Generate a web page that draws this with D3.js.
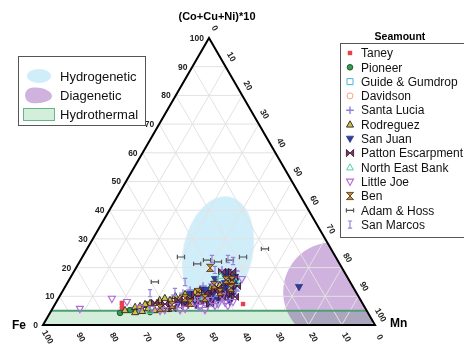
<!DOCTYPE html>
<html>
<head>
<meta charset="utf-8">
<script src="https://cdn.jsdelivr.net/npm/d3@7"></script>
<style>
  body { margin: 0; background: #fff; }
  svg { display: block; font-family: "Liberation Sans", Arial, Helvetica, sans-serif; }
</style>
</head>
<body>
<svg id="chart" width="464" height="346"></svg>
<script>
// Tick labels shared by the three ternary axes
const ticks = [0, 10, 20, 30, 40, 50, 60, 70, 80, 90, 100];

// Samples per seamount: [Fe, Mn, (Co+Cu+Ni)*10], normalised to 100
const taney = [[72.4,19.9,7.7],[72.9,20.5,6.6],[73.4,21.0,5.6],[36.1,56.6,7.3]];
const pioneer = [[74.7,21.1,4.2],[71.2,23.6,5.2],[65.5,30.0,4.5]];
const guideGumdrop = [[55.2,37.8,7.0],[46.5,44.1,9.4],[38.6,48.9,12.5]];
const davidson = [[66.5,27.9,5.6],[51.5,41.2,7.3],[41.9,47.3,10.8]];
const santaLucia = [[57.9,34.4,7.7],[54.4,36.9,8.7],[51.3,38.6,10.1],[50.2,41.8,8.0],[47.4,42.1,10.5],
  [46.9,44.4,8.7],[44.0,44.5,11.5],[43.3,46.9,9.8],[40.3,46.8,12.9],[39.7,49.2,11.1],[36.7,49.4,13.9],
  [36.1,51.7,12.2],[35.2,50.2,14.6],[36.0,52.2,11.8],[36.0,46.2,17.8],[35.1,48.2,16.7],[36.1,47.5,16.4],
  [41.9,43.8,14.3],[49.6,38.2,12.2],[61.3,31.7,7.0],[36.5,44.3,19.2],[56.4,34.2,9.4],[52.3,36.6,11.1],
  [50.1,40.5,9.4],[45.0,41.4,13.6],[47.0,46.4,6.6],[39.8,45.2,15.0],[41.1,50.2,8.7],[37.0,51.5,11.5],
  [32.5,48.7,18.8],[50.3,43.8,5.9]];
const rodreguez = [[69.1,24.6,6.3],[67.5,25.9,6.6],[65.2,27.8,7.0],[63.9,28.4,7.7],[61.8,30.5,7.7],
  [60.5,30.8,8.7],[58.6,32.0,9.4],[57.4,33.9,8.7],[55.1,34.8,10.1],[54.0,36.6,9.4],[51.8,37.4,10.8],
  [50.6,39.3,10.1],[48.4,40.1,11.5],[46.6,41.2,12.2],[43.2,43.9,12.9],[39.8,46.3,13.9],[36.2,48.8,15.0],
  [72.7,22.1,5.2],[67.7,27.4,4.9],[63.7,31.1,5.2],[59.5,34.9,5.6],[65.4,28.7,5.9],[52.3,39.7,8.0],
  [47.1,43.5,9.4],[42.7,45.1,12.2],[38.7,47.7,13.6],[34.5,48.4,17.1],[70.0,25.5,4.5],[65.6,27.1,7.3],
  [60.9,32.5,6.6]];
const sanJuan = [[53.2,38.8,8.0],[48.6,42.0,9.4],[46.4,45.9,7.7],[43.4,45.8,10.8],[42.9,48.4,8.7],
  [39.7,48.1,12.2],[39.2,50.7,10.1],[36.2,50.6,13.2],[34.3,50.4,15.3],[38.0,51.9,10.1],[33.8,49.5,16.7],
  [37.9,47.5,14.6],[45.7,42.1,12.2],[35.0,46.5,18.5],[16.3,70.5,13.2],[55.7,37.0,7.3],[50.3,38.9,10.8],
  [50.4,42.6,7.0],[44.8,43.0,12.2],[44.7,46.6,8.7],[41.4,48.1,10.5],[38.4,48.7,12.9],[39.7,52.3,8.0],
  [35.4,51.0,13.6],[40.2,43.8,16.0],[36.6,46.3,17.1]];
const pattonEscarpment = [[59.6,33.1,7.3],[54.9,36.4,8.7],[51.2,39.7,9.1],[48.7,43.3,8.0],[45.5,44.4,10.1],
  [42.3,45.9,11.8],[41.2,49.0,9.8],[37.8,50.4,11.8],[34.8,51.6,13.6],[37.3,52.9,9.8],[33.8,47.7,18.5],
  [62.4,29.9,7.7],[58.1,36.0,5.9],[53.7,39.3,7.0],[48.9,40.6,10.5],[45.6,43.3,11.1],[46.0,46.7,7.3],
  [40.8,46.3,12.9],[39.5,49.7,10.8],[36.7,48.7,14.6],[34.3,49.3,16.4],[36.8,44.7,18.5]];
const northEastBank = [[65.3,29.8,4.9],[46.9,43.3,9.8],[34.4,50.6,15.0],[38.1,44.8,17.1]];
const littleJoe = [[86.1,8.3,5.6],[74.7,16.2,9.1],[70.7,21.3,8.0],[32.1,51.9,16.0],[62.3,32.8,4.9],
  [54.4,40.0,5.6],[49.5,44.2,6.3],[44.9,48.5,6.6],[41.3,51.0,7.7],[41.0,52.4,6.6],[45.3,46.0,8.7],
  [50.4,41.9,7.7],[38.8,53.2,8.0],[56.9,36.5,6.6],[41.0,48.9,10.1],[60.7,34.1,5.2],[56.1,38.7,5.2],
  [48.6,46.2,5.2],[43.6,49.1,7.3],[48.3,43.0,8.7],[64.4,30.0,5.6],[67.8,26.3,5.9]];
const ben = [[57.6,35.4,7.0],[52.5,38.1,9.4],[47.6,40.9,11.5],[39.7,40.4,19.9],[40.9,47.6,11.5],
  [35.2,49.1,15.7],[36.9,50.2,12.9],[61.8,32.3,5.9],[46.5,44.1,9.4],[41.5,44.6,13.9],[37.0,47.3,15.7],
  [51.8,40.5,7.7]];
const adamHoss = [[58.8,26.2,15.0],[46.6,29.7,23.7],[42.9,35.8,21.3],[39.3,38.1,22.6],[36.3,41.7,22.0],
  [32.4,45.0,22.6],[27.9,48.4,23.7],[19.9,53.6,26.5]];
const sanMarcos = [[62.2,26.7,11.1],[49.7,35.3,15.0],[37.6,39.4,23.0],[32.8,44.2,23.0],[31.6,46.1,22.3],
  [38.6,42.2,19.2],[54.5,34.0,11.5]];

// Discrimination fields, in ternary units (Mn, (Co+Cu+Ni)*10)
const hydrogeneticField = { mn: 40.0, cu: 25.4, rx: 10.5, ry: 17.0, tilt: 12 };
const diageneticField = { mn: 81.6, cu: 11.5, r: 15.0 };
const hydrothermalLimit = 5;

const svg = d3.select("#chart");

// Ternary layout: equilateral triangle, Fe bottom-left, Mn bottom-right, (Co+Cu+Ni)*10 at the top
const xS = d3.scaleLinear().domain([0, 100]).range([43, 375]);
const yS = d3.scaleLinear().domain([0, 100]).range([325, 38]);
const unit = v => xS(v) - xS(0);
const pos = (mn, cu) => [xS(mn + cu / 2), yS(cu)];

const cFe = pos(0, 0), cMn = pos(100, 0), cTop = pos(0, 100);

svg.append("defs").append("clipPath").attr("id", "tri")
  .append("path").attr("d", `M${cFe}L${cMn}L${cTop}Z`);

const fields = svg.append("g").attr("clip-path", "url(#tri)");

// Hydrothermal band
const band = [pos(0, 0), pos(100, 0), pos(100 - hydrothermalLimit, hydrothermalLimit), pos(0, hydrothermalLimit)];
fields.append("path").attr("d", "M" + band.join("L") + "Z").attr("fill", "#d3eedb");

// Hydrogenetic field
const hc = pos(hydrogeneticField.mn, hydrogeneticField.cu);
fields.append("ellipse")
  .attr("transform", `translate(${hc}) rotate(${hydrogeneticField.tilt})`)
  .attr("rx", unit(hydrogeneticField.rx)).attr("ry", unit(hydrogeneticField.ry))
  .attr("fill", "#d0eef9");

// Diagenetic field
const dc = pos(diageneticField.mn, diageneticField.cu);
fields.append("circle")
  .attr("cx", dc[0]).attr("cy", dc[1]).attr("r", unit(diageneticField.r))
  .attr("fill", "#cfb2dd").style("mix-blend-mode", "multiply");

// Grid
const grid = svg.append("g").attr("stroke", "#e2e2e2").attr("stroke-width", 1).attr("fill", "none");
ticks.filter(v => v > 0 && v < 100).forEach(v => {
  grid.append("line").attr("x1", pos(0, v)[0]).attr("y1", pos(0, v)[1]).attr("x2", pos(100 - v, v)[0]).attr("y2", pos(100 - v, v)[1]);
  grid.append("line").attr("x1", pos(v, 0)[0]).attr("y1", pos(v, 0)[1]).attr("x2", pos(v, 100 - v)[0]).attr("y2", pos(v, 100 - v)[1]);
  grid.append("line").attr("x1", pos(100 - v, 0)[0]).attr("y1", pos(100 - v, 0)[1]).attr("x2", pos(0, 100 - v)[0]).attr("y2", pos(0, 100 - v)[1]);
});

// Hydrothermal upper limit
svg.append("line")
  .attr("x1", pos(0, hydrothermalLimit)[0]).attr("y1", pos(0, hydrothermalLimit)[1])
  .attr("x2", pos(100 - hydrothermalLimit, hydrothermalLimit)[0]).attr("y2", pos(100 - hydrothermalLimit, hydrothermalLimit)[1])
  .attr("stroke", "#4f9f74").attr("stroke-width", 2);

// Triangle frame
svg.append("path").attr("d", `M${cFe}L${cMn}L${cTop}Z`)
  .attr("fill", "none").attr("stroke", "#000").attr("stroke-width", 2).attr("stroke-linejoin", "miter");

// Axis tick labels
const tickG = svg.append("g").attr("font-size", 8.5).attr("font-weight", "bold").attr("fill", "#222");
ticks.forEach(v => {
  const pl = pos(0, v);
  tickG.append("text").attr("x", pl[0] - 5).attr("y", pl[1]).attr("dy", "0.35em")
    .attr("text-anchor", "end").text(v);
  const pr = pos(v, 100 - v);
  tickG.append("text").attr("transform", `translate(${pr[0] + 6},${pr[1] - 10}) rotate(60)`)
    .attr("text-anchor", "middle").attr("dy", "0.35em").text(v);
  const pb = pos(100 - v, 0);
  tickG.append("text").attr("transform", `translate(${pb[0] + 5},${pb[1] + 12}) rotate(60)`)
    .attr("text-anchor", "middle").attr("dy", "0.35em").text(v);
});

svg.append("text").attr("x", 12).attr("y", cFe[1]).attr("dy", "0.35em")
  .attr("font-size", 12).attr("font-weight", "bold").text("Fe");
svg.append("text").attr("x", cMn[0] + 15).attr("y", cMn[1] - 2).attr("dy", "0.35em")
  .attr("font-size", 12).attr("font-weight", "bold").text("Mn");
svg.append("text").attr("x", 217).attr("y", 16).attr("dy", "0.35em").attr("text-anchor", "middle")
  .attr("font-size", 11).attr("font-weight", "bold").text("(Co+Cu+Ni)*10");

// Marker shapes
const shapes = {
  square: s => `M${-s},${-s}h${2 * s}v${2 * s}h${-2 * s}Z`,
  circle: s => `M${-s},0a${s},${s} 0 1,0 ${2 * s},0a${s},${s} 0 1,0 ${-2 * s},0Z`,
  plus: s => `M${-s},0H${s}M0,${-s}V${s}`,
  triUp: s => `M0,${-s}L${s * 0.95},${s * 0.7}L${-s * 0.95},${s * 0.7}Z`,
  triDown: s => `M0,${s}L${s * 0.95},${-s * 0.7}L${-s * 0.95},${-s * 0.7}Z`,
  bowtie: s => `M${-s},${-s}L0,0L${-s},${s}ZM${s},${-s}L0,0L${s},${s}Z`,
  hourglass: s => `M${-s},${-s}L${s},${-s}L0,0ZM${-s},${s}L${s},${s}L0,0Z`,
  hbar: s => `M${-s},0H${s}M${-s},${-s * 0.6}V${s * 0.6}M${s},${-s * 0.6}V${s * 0.6}`,
  ibar: s => `M0,${-s}V${s}M${-s * 0.6},${-s}H${s * 0.6}M${-s * 0.6},${s}H${s * 0.6}`
};

const seamounts = [
  { name: "Taney", data: taney, shape: "square", size: 2.2, fill: "#e8404c", stroke: "none", sw: 0 },
  { name: "Pioneer", data: pioneer, shape: "circle", size: 2.8, fill: "#3a9a55", stroke: "#1c5a30", sw: 1 },
  { name: "Guide & Gumdrop", data: guideGumdrop, shape: "square", size: 3, fill: "none", stroke: "#44b3e3", sw: 1 },
  { name: "Davidson", data: davidson, shape: "circle", size: 3, fill: "none", stroke: "#f2a482", sw: 1 },
  { name: "Santa Lucia", data: santaLucia, shape: "plus", size: 3.8, fill: "none", stroke: "#8f80dc", sw: 1.4 },
  { name: "Rodreguez", data: rodreguez, shape: "triUp", size: 3.7, fill: "#d2bf48", stroke: "#222", sw: 0.9 },
  { name: "San Juan", data: sanJuan, shape: "triDown", size: 3.8, fill: "#2f3d9c", stroke: "#1d276b", sw: 0.6 },
  { name: "Patton Escarpment", data: pattonEscarpment, shape: "bowtie", size: 3.6, fill: "#7e3468", stroke: "#2e0f26", sw: 0.8 },
  { name: "North East Bank", data: northEastBank, shape: "triUp", size: 3.6, fill: "none", stroke: "#52d4a0", sw: 1 },
  { name: "Little Joe", data: littleJoe, shape: "triDown", size: 3.7, fill: "none", stroke: "#b06ad4", sw: 1.1 },
  { name: "Ben", data: ben, shape: "hourglass", size: 3.6, fill: "#c08a3a", stroke: "#4a3010", sw: 0.8 },
  { name: "Adam & Hoss", data: adamHoss, shape: "hbar", size: 3.6, fill: "none", stroke: "#555", sw: 1.2 },
  { name: "San Marcos", data: sanMarcos, shape: "ibar", size: 3.6, fill: "none", stroke: "#9486d8", sw: 1.2 }
];

const pts = svg.append("g");
seamounts.forEach(sm => {
  pts.append("g").selectAll("path").data(sm.data).join("path")
    .attr("transform", d => `translate(${pos(d[1], d[2])})`)
    .attr("d", shapes[sm.shape](sm.size))
    .attr("fill", sm.fill).attr("stroke", sm.stroke).attr("stroke-width", sm.sw);
});

// Field legend
const fl = svg.append("g").attr("font-size", 13).attr("fill", "#111");
fl.append("rect").attr("x", 18.5).attr("y", 56.5).attr("width", 127).attr("height", 69)
  .attr("fill", "#fff").attr("stroke", "#555").attr("stroke-width", 1);
fl.append("ellipse").attr("cx", 39).attr("cy", 76).attr("rx", 12).attr("ry", 7).attr("fill", "#d0eef9");
fl.append("path").attr("d", "M31,88C41,86 52,91 52,96C52,101 42,104 32,103C23,102 23,89 31,88Z").attr("fill", "#cfb2dd");
fl.append("rect").attr("x", 23.5).attr("y", 108.5).attr("width", 31).attr("height", 12)
  .attr("fill", "#d3eedb").attr("stroke", "#66b487").attr("stroke-width", 1);
["Hydrogenetic", "Diagenetic", "Hydrothermal"].forEach((t, i) => {
  fl.append("text").attr("x", 60).attr("y", 76 + i * 19).attr("dy", "0.35em").text(t);
});

// Seamount legend
const sl = svg.append("g");
sl.append("text").attr("x", 400).attr("y", 36).attr("dy", "0.35em").attr("text-anchor", "middle")
  .attr("font-size", 10.5).attr("font-weight", "bold").text("Seamount");
sl.append("rect").attr("x", 340.5).attr("y", 43.5).attr("width", 140).attr("height", 194)
  .attr("fill", "#fff").attr("stroke", "#555").attr("stroke-width", 1);
seamounts.forEach((sm, i) => {
  const y = 53 + i * 14.3;
  sl.append("path").attr("transform", `translate(350,${y})`).attr("d", shapes[sm.shape](sm.size))
    .attr("fill", sm.fill).attr("stroke", sm.stroke).attr("stroke-width", sm.sw);
  sl.append("text").attr("x", 361).attr("y", y).attr("dy", "0.35em").attr("font-size", 12)
    .attr("fill", "#111").text(sm.name);
});
</script>
</body>
</html>
